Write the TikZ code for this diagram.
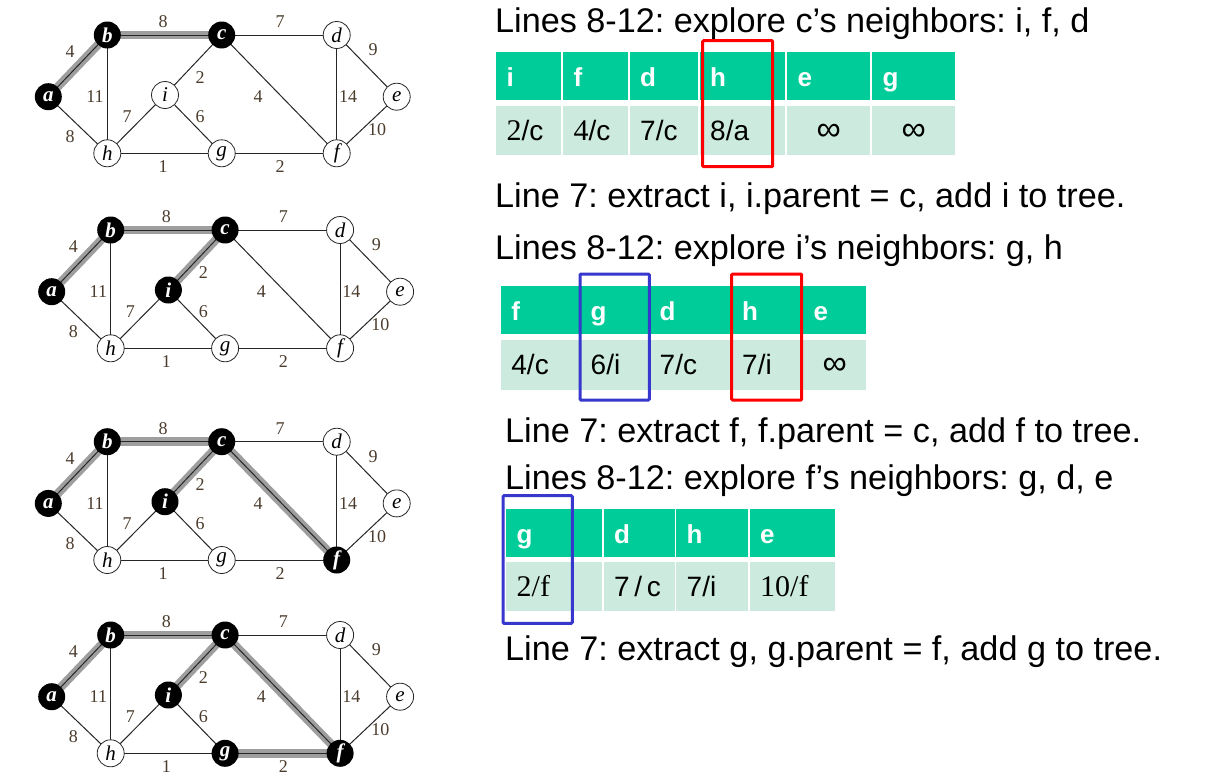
\documentclass[tikz,border=0pt]{standalone}
\usepackage{fontspec}
\setmainfont{Liberation Serif}
\newfontfamily\arialf{Liberation Sans}
\frenchspacing
\pgfdeclarelayer{paper}
\pgfdeclarelayer{edges}
\pgfsetlayers{paper,edges,main}
\definecolor{hdr}{RGB}{0,204,153}
\definecolor{cellc}{RGB}{204,235,222}
\definecolor{lab}{RGB}{75,60,45}
\definecolor{mstc}{RGB}{158,158,158}
\definecolor{boxred}{RGB}{255,0,0}
\definecolor{boxblue}{RGB}{55,55,205}
\newcommand\sd[1]{{\rmfamily\fontsize{30}{32}\selectfont #1}}
\tikzset{
  wnode/.style={circle, draw=black!85, line width=0.8pt, fill=white, minimum size=27pt, inner sep=0pt,
    font=\fontsize{21}{22}\selectfont\itshape},
  bnode/.style={circle, fill=black, text=white, minimum size=27pt, inner sep=0pt,
    font=\fontsize{21}{22}\selectfont\bfseries\itshape},
  edge/.style={line width=1pt, draw=black!85},
  mst/.style={line width=8.5pt, draw=mstc, line cap=butt},
  wl/.style={text=lab, inner sep=0pt, font=\fontsize{18}{20}\selectfont},
  hcell/.style={anchor=north west, fill=hdr, text=white, font=\arialf\bfseries\fontsize{26}{30}\selectfont,
    inner xsep=10.5pt, inner ysep=0pt, text height=25pt, text depth=4pt, align=left},
  dcell/.style={anchor=north west, fill=cellc, text=black, font=\arialf\fontsize{28}{32}\selectfont,
    inner xsep=10.5pt, inner ysep=0pt, text height=24pt, text depth=5pt, align=left},
  dserif/.style={dcell, font=\rmfamily\fontsize{30}{32}\selectfont},
  dinf/.style={dcell, align=center, font=\arialf\fontsize{34}{36}\selectfont},
  txt/.style={anchor=base west, inner sep=0pt, font=\arialf\fontsize{34.2}{40}\selectfont},
  boxr/.style={draw=boxred, line width=3pt, rounded corners=1pt},
  boxb/.style={draw=boxblue, line width=3pt, rounded corners=1pt}
}
\newcommand\tcell[7]{%
  \pgfmathsetmacro\tcw{#4-#3-21}%
  \node[#1, text width=\tcw pt, minimum height=#6pt] (#2) at (#3,#5) {#7};}
\newcommand\primgraph[4]{%
\begin{scope}[shift={(#1,#2)}]
  \ifnum#4>1 \tikzset{nI/.style={bnode}}\else\tikzset{nI/.style={wnode}}\fi
  \ifnum#4>2 \tikzset{nF/.style={bnode}}\else\tikzset{nF/.style={wnode}}\fi
  \ifnum#4>3 \tikzset{nG/.style={bnode}}\else\tikzset{nG/.style={wnode}}\fi
  \node[bnode] (#3a) at (0,61.7) {a};
  \node[bnode] (#3b) at (59,0) {b};
  \node[bnode] (#3c) at (173.4,0) {c};
  \node[wnode] (#3d) at (288.4,0) {d};
  \node[wnode] (#3e) at (348.4,61.7) {e};
  \node[nI] (#3i) at (116.7,60) {i};
  \node[wnode] (#3h) at (59,118.3) {h};
  \node[nG] (#3g) at (173.4,118.3) {g};
  \node[nF] (#3f) at (288.4,118.3) {f};
  \begin{pgfonlayer}{edges}
    \draw[mst] (#3a.center) -- (#3b.center);
    \draw[mst] (#3b.center) -- (#3c.center);
    \ifnum#4>1 \draw[mst] (#3c.center) -- (#3i.center);\fi
    \ifnum#4>2 \draw[mst] (#3c.center) -- (#3f.center);\fi
    \ifnum#4>3 \draw[mst] (#3g.center) -- (#3f.center);\fi
    \draw[edge] (#3a.center) -- (#3b.center);
    \draw[edge] (#3b.center) -- (#3c.center);
    \draw[edge] (#3c.center) -- (#3d.center);
    \draw[edge] (#3d.center) -- (#3e.center);
    \draw[edge] (#3a.center) -- (#3h.center);
    \draw[edge] (#3b.center) -- (#3h.center);
    \draw[edge] (#3c.center) -- (#3i.center);
    \draw[edge] (#3c.center) -- (#3f.center);
    \draw[edge] (#3d.center) -- (#3f.center);
    \draw[edge] (#3e.center) -- (#3f.center);
    \draw[edge] (#3i.center) -- (#3h.center);
    \draw[edge] (#3i.center) -- (#3g.center);
    \draw[edge] (#3h.center) -- (#3g.center);
    \draw[edge] (#3g.center) -- (#3f.center);
  \end{pgfonlayer}
  \node[wl] (#3w1) at (21.7,17) {4};
  \node[wl] (#3w2) at (114.7,-13) {8};
  \node[wl] (#3w3) at (231.7,-13) {7};
  \node[wl] (#3w4) at (324.7,15) {9};
  \node[wl] (#3w5) at (46.7,62) {11};
  \node[wl] (#3w6) at (151.7,43) {2};
  \node[wl] (#3w7) at (209.7,62) {4};
  \node[wl] (#3w8) at (299.7,62) {14};
  \node[wl] (#3w9) at (78.7,82) {7};
  \node[wl] (#3w10) at (151.7,82) {6};
  \node[wl] (#3w11) at (21.7,102) {8};
  \node[wl] (#3w12) at (328.7,95) {10};
  \node[wl] (#3w13) at (114.7,132) {1};
  \node[wl] (#3w14) at (231.7,132) {2};
\end{scope}}
\begin{document}
\begin{tikzpicture}[x=1pt,y=-1pt]
\begin{pgfonlayer}{paper}
  \fill[white] (0,0) rectangle (1229,779);
\end{pgfonlayer}
\useasboundingbox (0,0) rectangle (1229,779);
% graphs
\primgraph{48.3}{35}{ga}{1}
\primgraph{51.7}{230}{gb}{2}
\primgraph{48.3}{441.7}{gc}{3}
\primgraph{51.7}{635}{gd}{4}
% text lines
\node[txt] (l1) at (495,32) {Lines 8-12: explore c’s neighbors: i, f, d};
\node[txt] (l2) at (495,207) {Line 7: extract i, i.parent = c, add i to tree.};
\node[txt] (l3) at (495,259) {Lines 8-12: explore i’s neighbors: g, h};
\node[txt] (l4) at (505,442) {Line 7: extract f, f.parent = c, add f to tree.};
\node[txt] (l5) at (505,489) {Lines 8-12: explore f’s neighbors: g, d, e};
\node[txt] (l6) at (505,660) {Line 7: extract g, g.parent = f, add g to tree.};
% table 1
\tcell{hcell}{ta1}{496}{561}{51.7}{48.3}{i}
\tcell{hcell}{ta2}{563}{627.5}{51.7}{48.3}{f}
\tcell{hcell}{ta3}{629.5}{697.5}{51.7}{48.3}{d}
\tcell{hcell}{ta4}{699.5}{785}{51.7}{48.3}{h}
\tcell{hcell}{ta5}{787}{870}{51.7}{48.3}{e}
\tcell{hcell}{ta6}{872}{955}{51.7}{48.3}{g}
\tcell{dcell}{tb1}{496}{561}{106}{49}{\sd{2}/c}
\tcell{dcell}{tb2}{563}{627.5}{106}{49}{\sd{4}/c}
\tcell{dcell}{tb3}{629.5}{697.5}{106}{49}{7/c}
\tcell{dcell}{tb4}{699.5}{785}{106}{49}{8/a}
\tcell{dinf}{tb5}{787}{870}{106}{49}{∞}
\tcell{dinf}{tb6}{872}{955}{106}{49}{∞}
\draw[boxr] (702.7,40.7) rectangle (772.7,166.7);
% table 2
\tcell{hcell}{tc1}{500.7}{578.5}{286}{48}{f}
\tcell{hcell}{tc2}{580}{647.5}{286}{48}{g}
\tcell{hcell}{tc3}{649}{730}{286}{48}{d}
\tcell{hcell}{tc4}{731.5}{801}{286}{48}{h}
\tcell{hcell}{tc5}{803}{866}{286}{48}{e}
\tcell{dcell}{td1}{500.7}{578.5}{340}{49.3}{4/c}
\tcell{dcell}{td2}{580}{647.5}{340}{49.3}{6/i}
\tcell{dcell}{td3}{649}{730}{340}{49.3}{7/c}
\tcell{dcell}{td4}{731.5}{801}{340}{49.3}{7/i}
\tcell{dinf}{td5}{803}{866}{340}{49.3}{∞}
\draw[boxb] (580,274) rectangle (649.3,400);
\draw[boxr] (731.7,274) rectangle (801.7,400);
% table 3
\tcell{hcell}{te1}{506}{602}{508.3}{48.4}{g}
\tcell{hcell}{te2}{603.5}{674.5}{508.3}{48.4}{d}
\tcell{hcell}{te3}{676}{748}{508.3}{48.4}{h}
\tcell{hcell}{te4}{749.5}{835}{508.3}{48.4}{e}
\tcell{dserif}{tf1}{506}{602}{561.7}{49.3}{2/f}
\tcell{dcell}{tf2}{603.5}{674.5}{561.7}{49.3}{\mbox{7\,/\,c}}
\tcell{dcell}{tf3}{676}{748}{561.7}{49.3}{7/i}
\tcell{dserif}{tf4}{749.5}{835}{561.7}{49.3}{10/f}
\draw[boxb] (503,495.7) rectangle (572.3,623.3);
\end{tikzpicture}
\end{document}
